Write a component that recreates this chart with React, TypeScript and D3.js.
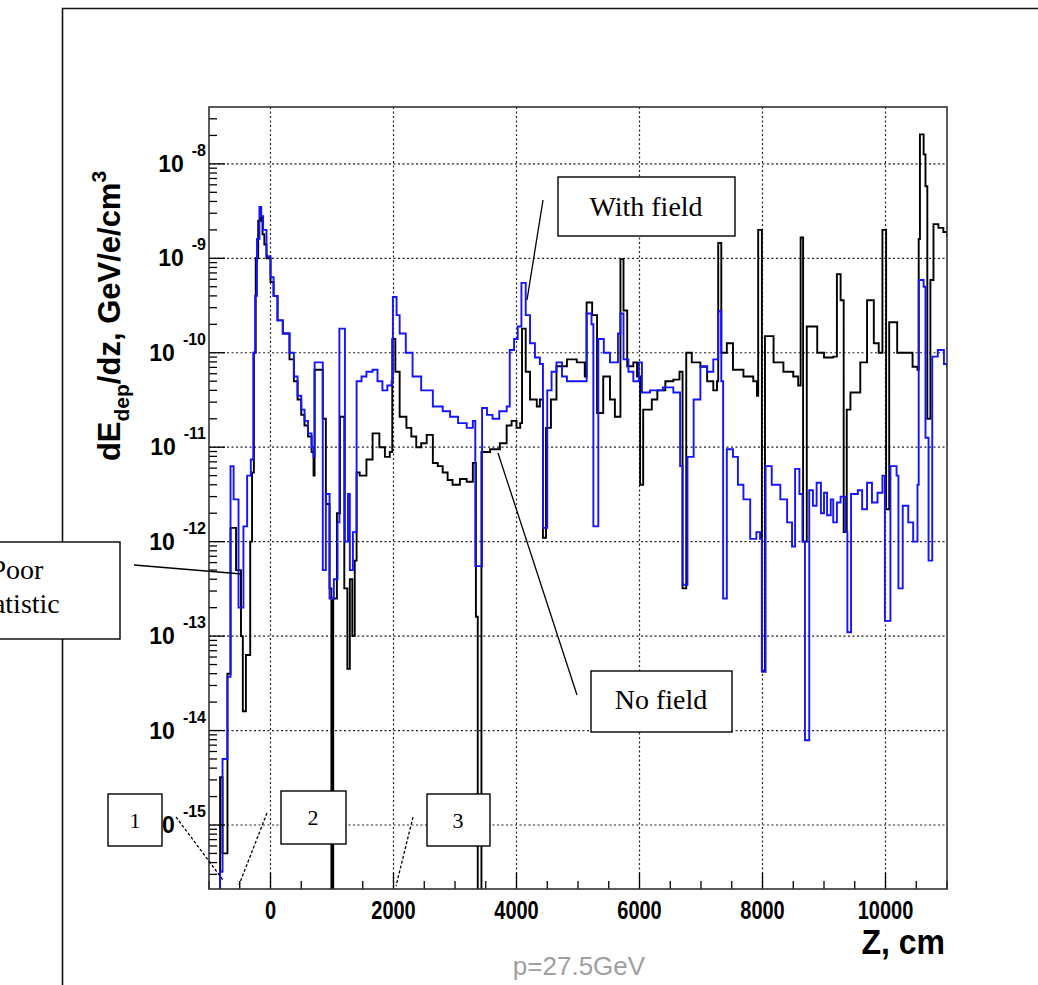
import React from 'react';
import * as d3 from 'd3';

// "No field" histogram (black): bin start z (cm) and content (GeV/e/cm^3)
const zNoField = [
  -1000, -820, -780, -700, -650, -560, -480, -450, -400, -330, -300, -270, -240, -200, -160, -130, -100, -65,
  0, 50, 114, 200, 309, 380, 440, 500, 553, 610, 668, 700, 717, 850, 900, 960, 990, 1020, 1080, 1130,
  1200, 1250, 1290, 1330, 1370, 1400, 1450, 1560, 1660, 1770, 1860, 1940, 1980, 2030, 2100, 2210, 2290,
  2370, 2450, 2540, 2640, 2720, 2800, 2880, 2960, 3080, 3190, 3290, 3340, 3370, 3430, 3570, 3730, 3840,
  3920, 4000, 4060, 4090, 4150, 4220, 4330, 4380, 4430, 4480, 4560, 4650, 4820, 4980, 5110, 5140, 5230,
  5310, 5410, 5520, 5600, 5690, 5740, 5800, 5900, 5960, 6010, 6060, 6200, 6290, 6420, 6550, 6650, 6700,
  6760, 6850, 6990, 7100, 7200, 7260, 7280, 7330, 7420, 7520, 7690, 7850, 7910, 7930, 7990, 8040, 8180,
  8340, 8500, 8580, 8620, 8660, 8720, 8890, 9000, 9150, 9210, 9270, 9320, 9370, 9430, 9590, 9700, 9810,
  9890, 9950, 10010, 10060, 10190, 10360, 10440, 10520, 10540, 10560, 10620, 10650, 10680, 10730, 10780,
  10860, 10940, 11000,
];
const vNoField = [
  1e-17, 3.2e-15, 5.0e-16, 4.0e-14, 1.4e-12, 5.0e-13, 1.0e-13, 1.6e-14, 6.3e-14, 1.0e-12, 5.4e-12, 1.0e-10,
  1.0e-9, 2.5e-9, 2.7e-9, 1.8e-9, 1.4e-9, 1.0e-9,
  5.6e-10, 4.0e-10, 2.2e-10, 1.6e-10, 8.5e-11, 5.0e-11, 3.2e-11, 2.2e-11, 1.7e-11, 1.3e-11, 8.9e-12, 5.0e-12,
  6.6e-11, 2.0e-11, 2.5e-12, 3.2e-13, 1e-17, 2.5e-13, 2.0e-12, 2.1e-11,
  3.2e-13, 4.5e-14, 4.0e-13, 1.0e-13, 6.3e-13, 5.4e-12, 5.0e-12, 7.4e-12, 1.4e-11, 1.0e-11, 7.9e-12, 8.9e-12,
  1.4e-10, 6.3e-11, 2.1e-11, 1.6e-11, 1.3e-11,
  1.0e-11, 1.1e-11, 1.35e-11, 6.8e-12, 6.3e-12, 5.4e-12, 4.5e-12, 4.0e-12, 4.6e-12, 4.3e-12, 6.8e-12, 1.6e-13,
  1e-17, 8.9e-12, 9.5e-12, 1.1e-11, 1.7e-11,
  1.9e-11, 1.6e-11, 1.8e-11, 1.8e-10, 6.3e-11, 3.2e-11, 2.7e-11, 3.2e-11, 1.1e-12, 1.6e-11, 3.2e-11, 7.2e-11,
  8.5e-11, 7.9e-11, 5.6e-11, 3.4e-10, 2.5e-10,
  2.3e-11, 5.6e-11, 3.2e-11, 2.1e-11, 9.8e-10, 2.8e-10, 7.2e-11, 7.9e-11, 5.6e-11, 4.0e-12, 2.5e-11, 3.2e-11,
  4.0e-11, 5.0e-11, 5.2e-11, 6.3e-11, 3.2e-13,
  1.0e-10, 7.9e-11, 7.1e-11, 5.0e-11, 4.0e-11, 5.0e-11, 1.45e-9, 1.0e-10, 1.26e-10, 6.6e-11, 5.6e-11, 5.0e-11,
  3.5e-11, 2.0e-9, 4.3e-14, 1.5e-10, 7.9e-11,
  6.3e-11, 5.6e-11, 4.5e-11, 1.66e-9, 1.0e-12, 1.9e-10, 1.0e-10, 8.9e-11, 9.1e-11, 6.8e-10, 3.6e-10, 1.26e-12,
  2.5e-11, 3.8e-11, 7.9e-11, 3.6e-10, 1.26e-10,
  1.0e-10, 2.0e-9, 2.2e-12, 2.1e-10, 1.0e-10, 1.0e-10, 7.1e-11, 6.6e-11, 1.6e-9, 2.05e-8, 1.26e-8, 5.8e-9,
  2.0e-11, 5.9e-10, 2.3e-9,
  2.1e-9, 1.9e-9, 1.7e-9,
];

// "With field" histogram (blue)
const zWithField = [
  -1000, -820, -780, -700, -650, -600, -520, -440, -380, -320, -280, -250, -220, -180, -150, -120, -65,
  0, 50, 114, 200, 309, 380, 440, 500, 553, 610, 668, 700, 717, 850, 900, 960, 1030, 1090, 1120, 1210,
  1260, 1290, 1340, 1400, 1480, 1560, 1660, 1740, 1820, 1900, 1970, 1990, 2050, 2100, 2200, 2310, 2450,
  2640, 2800, 2920, 3050, 3190, 3290, 3330, 3440, 3520, 3610, 3720, 3840, 3890, 3960, 4020, 4080, 4150,
  4220, 4300, 4380, 4430, 4500, 4570, 4650, 4740, 4820, 5030, 5140, 5220, 5250, 5330, 5420, 5520, 5650,
  5690, 5740, 5820, 5900, 5990, 6040, 6170, 6380, 6550, 6660, 6700, 6780, 6880, 6990, 7100, 7200, 7280,
  7330, 7360, 7420, 7520, 7600, 7690, 7800, 7900, 7960, 7990, 8050, 8150, 8290, 8400, 8480, 8530, 8600,
  8650, 8690, 8760, 8820, 8880, 8950, 9000, 9050, 9110, 9150, 9210, 9270, 9350, 9380, 9440, 9550, 9620,
  9700, 9780, 9870, 9950, 9990, 10080, 10180, 10210, 10280, 10370, 10450, 10520, 10540, 10620, 10650,
  10700, 10760, 10850, 10950, 11000,
];
const vWithField = [
  1e-17, 3.2e-16, 5.0e-15, 3.7e-14, 6.3e-12, 2.8e-12, 2.0e-13, 1.45e-12, 5.0e-12, 7.4e-12, 1.0e-10, 4.0e-10,
  1.6e-9, 3.5e-9, 2.8e-9, 2.0e-9, 1.05e-9,
  6.3e-10, 4.0e-10, 2.2e-10, 1.6e-10, 1.0e-10, 5.6e-11, 3.5e-11, 2.5e-11, 1.9e-11, 1.4e-11, 1.0e-11, 7.9e-12,
  7.9e-11, 5.0e-13, 3.2e-12, 2.5e-13, 4.0e-13, 1.6e-12, 1.8e-10, 1.0e-12,
  3.2e-12, 5.0e-13, 1.26e-12, 5.0e-11, 5.6e-11, 6.3e-11, 6.6e-11, 5.0e-11, 4.0e-11, 4.5e-11, 5.0e-11, 3.9e-10,
  2.5e-10, 1.6e-10, 1.0e-10, 5.6e-11, 4.0e-11,
  2.7e-11, 2.4e-11, 2.1e-11, 1.8e-11, 1.6e-11, 1.9e-11, 5.5e-13, 2.6e-11, 2.2e-11, 2.0e-11, 2.4e-11, 2.7e-11,
  1.07e-10, 1.4e-10, 1.9e-10, 5.5e-10, 2.5e-10,
  1.26e-10, 8.9e-11, 7.6e-11, 1.4e-12, 4.0e-11, 6.3e-11, 7.9e-11, 5.6e-11, 5.0e-11, 5.0e-11, 2.6e-10, 2.0e-10,
  1.45e-12, 1.4e-10, 1.0e-10, 7.9e-11, 1.6e-10,
  2.6e-10, 8.5e-11, 6.3e-11, 5.0e-11, 7.9e-11, 3.8e-11, 4.0e-11, 4.3e-11, 3.8e-11, 6.3e-12, 3.5e-13, 7.9e-12,
  3.2e-11, 7.2e-11, 6.3e-11, 8.5e-11, 2.75e-10,
  5.0e-11, 2.5e-13, 9.5e-12, 7.9e-12, 4.0e-12, 2.8e-12, 1.07e-12, 1.26e-12, 1.07e-12, 4.2e-14, 6.3e-12, 4.0e-12,
  2.8e-12, 1.6e-12, 8.9e-13, 5.9e-12, 3.2e-12,
  1.0e-12, 7.9e-15, 3.5e-12, 2.4e-12, 4.2e-12, 2.0e-12, 3.3e-12, 1.9e-12, 2.8e-12, 1.6e-12, 2.6e-12, 3.0e-12,
  1.26e-12, 1.1e-13, 3.2e-12, 3.5e-12, 2.2e-12,
  4.2e-12, 2.6e-12, 3.3e-12, 5.0e-12, 1.45e-13, 6.3e-12, 5.0e-12, 3.2e-13, 2.4e-12, 1.6e-12, 1.0e-12, 4.0e-12,
  5.9e-10, 5.0e-10, 1.26e-11,
  6.3e-13, 9.1e-11, 1.07e-10, 7.6e-11, 7.0e-11,
];

const xMajor = [0, 2000, 4000, 6000, 8000, 10000];
const yDecades = [-8, -9, -10, -11, -12, -13, -14, -15];

const SANS = 'Liberation Sans, Arial, Helvetica, sans-serif';
const SERIF = 'Liberation Serif, Times New Roman, serif';

const L = 209, R = 947, T = 107, B = 889;

export default function App() {
  const x = d3.scaleLinear().domain([-1000, 11000]).range([L, R]);
  const y = d3.scaleLog().domain([2.1e-16, 4e-8]).range([B, T]);

  const line = d3.line<[number, number]>()
    .x(d => x(d[0]))
    .y(d => y(d[1]))
    .curve(d3.curveStepAfter);

  const pts = (z: number[], v: number[]) => z.map((zz, i) => [zz, v[i]] as [number, number]);

  const xMinor = d3.range(-1000, 11001, 500).filter(v => !xMajor.includes(v));
  const yMinor: number[] = [];
  for (let e = -16; e <= -8; e++) {
    for (let m = 2; m <= 9; m++) {
      const v = m * Math.pow(10, e);
      if (v > y.domain()[0] && v < y.domain()[1]) yMinor.push(v);
    }
  }

  const box = (x0: number, y0: number, x1: number, y1: number) => (
    <rect x={x0} y={y0} width={x1 - x0} height={y1 - y0} fill="#fff" stroke="#000" strokeWidth={1.4} />
  );

  return (
    <svg width={1038} height={985} style={{ position: 'absolute', left: 0, top: 0, background: '#fff' }}>
      <defs>
        <clipPath id="plot">
          <rect x={L} y={T} width={R - L} height={B - T} />
        </clipPath>
      </defs>
      <rect x={0} y={0} width={1038} height={985} fill="#fff" />
      {/* outer pad frame */}
      <path d="M1038,8.5 H62.5 V985" fill="none" stroke="#111" strokeWidth={1.6} />

      {/* grid */}
      <g stroke="#222" strokeWidth={1.2} strokeDasharray="2,2.5">
        {xMajor.map(v => (
          <line key={'gx' + v} x1={x(v)} x2={x(v)} y1={T} y2={B} />
        ))}
        {yDecades.map(e => (
          <line key={'gy' + e} x1={L} x2={R} y1={y(Math.pow(10, e))} y2={y(Math.pow(10, e))} />
        ))}
      </g>

      {/* histograms */}
      <g clipPath="url(#plot)" fill="none" strokeWidth={1.9} strokeLinejoin="miter">
        <path d={line(pts(zNoField, vNoField)) || ''} stroke="#000" />
        <path d={line(pts(zWithField, vWithField)) || ''} stroke="#1414ff" />
      </g>

      {/* ticks */}
      <g stroke="#000" strokeWidth={1.3}>
        {xMajor.map(v => (
          <line key={'tx' + v} x1={x(v)} x2={x(v)} y1={B} y2={B - 16} />
        ))}
        {xMinor.map(v => (
          <line key={'mx' + v} x1={x(v)} x2={x(v)} y1={B} y2={B - 8} />
        ))}
        {yDecades.map(e => (
          <line key={'ty' + e} x1={L} x2={L + 16} y1={y(Math.pow(10, e))} y2={y(Math.pow(10, e))} />
        ))}
        {yMinor.map((v, i) => (
          <line key={'my' + i} x1={L} x2={L + 8} y1={y(v)} y2={y(v)} />
        ))}
      </g>

      {/* frame */}
      <rect x={L} y={T} width={R - L} height={B - T} fill="none" stroke="#333" strokeWidth={1.6} />

      {/* tick labels */}
      <g fontFamily={SANS} fontWeight="bold" fill="#000">
        {xMajor.map(v => (
          <text key={'lx' + v} transform={`translate(${x(v)},919) scale(1,1.3)`} fontSize={20} textAnchor="middle">{v}</text>
        ))}
        {yDecades.map(e => (
          <text key={'ly' + e} x={206} y={y(Math.pow(10, e)) + 8} textAnchor="end" fontSize={23}>
            10<tspan dx={8} dy={-16} fontSize={16}>{e}</tspan>
          </text>
        ))}
      </g>

      {/* axis titles */}
      <text transform="translate(945,954) scale(1,1.1)" textAnchor="end" fontFamily={SANS} fontWeight="bold" fontSize={32}>Z, cm</text>
      <text x={579} y={975} textAnchor="middle" fontFamily={SANS} fontSize={26} fill="#a0a0a0">p=27.5GeV</text>
      <text transform="translate(120,316) rotate(-90)" textAnchor="middle" fontFamily={SANS} fontWeight="bold" fontSize={31}>
        dE<tspan dy={9} fontSize={21}>dep</tspan><tspan dy={-9}>/dz, GeV/e/cm</tspan><tspan dy={-14} fontSize={21}>3</tspan>
      </text>

      {/* annotations */}
      <g stroke="#000" strokeWidth={1.3} fill="none">
        <line x1={543} y1={200} x2={527} y2={300} />
        <line x1={498} y1={453} x2={577} y2={695} />
        <line x1={134} y1={565} x2={242} y2={574} />
        <line x1={176} y1={817} x2={223} y2={880} strokeDasharray="3,2" />
        <line x1={267} y1={813} x2={239} y2={885} strokeDasharray="3,2" />
        <line x1={413} y1={817} x2={396} y2={886} strokeDasharray="3,2" />
      </g>
      <g fontFamily={SERIF} fill="#000" textAnchor="middle">
        {box(558, 177, 735, 236)}
        <text x={646} y={216} fontSize={28}>With field</text>
        {box(591, 671, 732, 732)}
        <text x={661} y={709} fontSize={28}>No field</text>
        {box(-80, 542, 120, 639)}
        <text x={17} y={579} fontSize={28}>Poor</text>
        <text x={17} y={613} fontSize={28}>statistic</text>
        {box(108, 794, 162, 846)}
        <text x={135} y={828} fontSize={22}>1</text>
        {box(281, 791, 346, 844)}
        <text x={313} y={825} fontSize={22}>2</text>
        {box(427, 794, 490, 846)}
        <text x={458} y={828} fontSize={22}>3</text>
      </g>
    </svg>
  );
}
